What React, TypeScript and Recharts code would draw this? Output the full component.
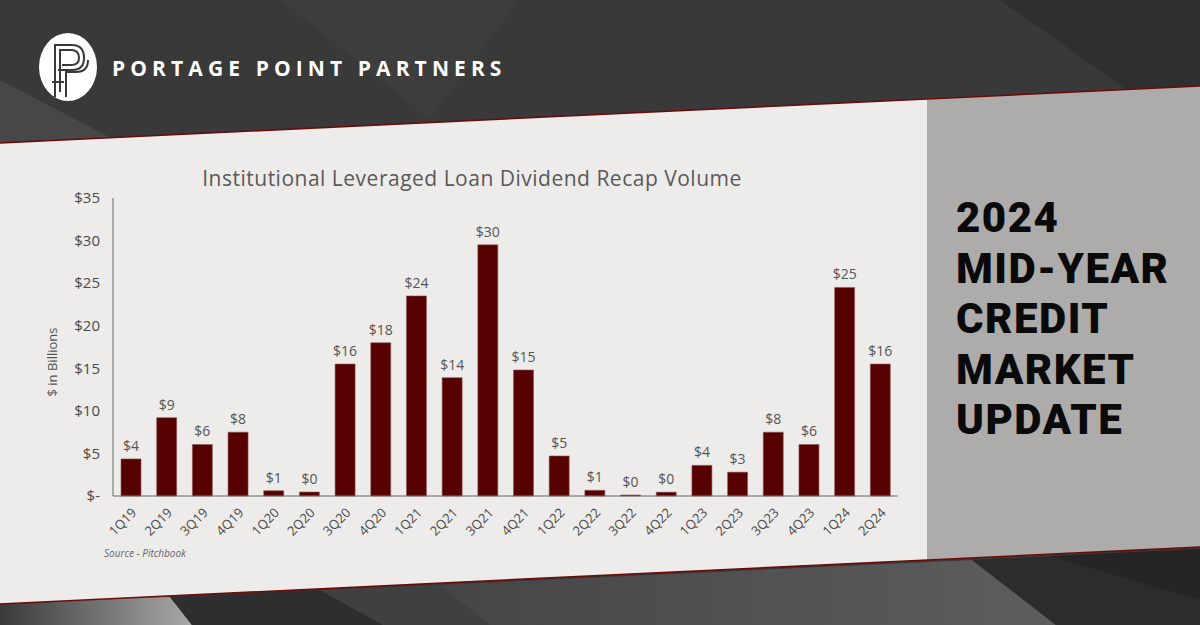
import type { ReactElement } from 'react'
import { BarChart, Bar, XAxis, YAxis, LabelList } from 'recharts'

// Quarterly volume, $ in billions
const QUARTERS = [
  '1Q19', '2Q19', '3Q19', '4Q19', '1Q20', '2Q20', '3Q20', '4Q20', '1Q21', '2Q21', '3Q21',
  '4Q21', '1Q22', '2Q22', '3Q22', '4Q22', '1Q23', '2Q23', '3Q23', '4Q23', '1Q24', '2Q24',
]
const VOLUME = [
  4.35, 9.2, 6.05, 7.5, 0.62, 0.47, 15.5, 18.0, 23.5, 13.9, 29.5,
  14.8, 4.7, 0.67, 0.12, 0.45, 3.6, 2.8, 7.5, 6.05, 24.5, 15.5,
]
const Y_TICKS = [0, 5, 10, 15, 20, 25, 30, 35]
const HEADLINE = ['2024', 'MID-YEAR', 'CREDIT', 'MARKET', 'UPDATE']

const MAROON = '#560000'
const FONT = '"Open Sans", sans-serif'

const rows = QUARTERS.map((q, i) => ({ quarter: q, volume: VOLUME[i] }))

const money = (v: number) => (v === 0 ? '$-' : `$${Math.round(v)}`)

// slanted edge of the light panel: y = a - 0.0475x
const topY = (x: number) => 143 - 0.0475 * x
const botY = (x: number) => 604 - 0.0475 * x

function XTick({ x, y, payload }: any) {
  return (
    <text
      x={x + 3}
      y={y + 6}
      transform={`rotate(-45 ${x + 3} ${y + 6})`}
      textAnchor="end"
      dominantBaseline="central"
      fontSize={13}
      fill="#4a4a4a"
      fontFamily={FONT}
    >
      {payload.value}
    </text>
  )
}

function Backdrop() {
  const panel = `0,${topY(0)} 1200,${topY(1200)} 1200,${botY(1200)} 0,${botY(0)}`
  const grey = `927,${topY(927)} 1200,${topY(1200)} 1200,${botY(1200)} 927,${botY(927)}`
  return (
    <svg width={1200} height={625} style={{ position: 'absolute', left: 0, top: 0 }}>
      <defs>
        <linearGradient id="lg1" x1="0" y1="0" x2="1" y2="0">
          <stop offset="0" stopColor="#3a3a3a" />
          <stop offset="1" stopColor="#a8a8a8" />
        </linearGradient>
        <linearGradient id="lg2" x1="0" y1="0" x2="1" y2="0">
          <stop offset="0" stopColor="#454545" />
          <stop offset="1" stopColor="#5e5d5d" />
        </linearGradient>
      </defs>
      <rect width={1200} height={625} fill="#3a393a" />
      {/* top facets */}
      <polygon points="0,80 115,140 0,145" fill="#474747" />
      <polygon points="280,0 520,0 430,120" fill="#3e3d3e" />
      <polygon points="1000,0 1200,0 1200,90 1130,92" fill="#2f2f2f" />
      {/* bottom facets */}
      <polygon points="0,600 170,597 192,625 0,625" fill="url(#lg1)" />
      <polygon points="170,597 320,590 383,625 192,625" fill="#2e2e2e" />
      <polygon points="320,590 440,585 490,625 383,625" fill="#404040" />
      <polygon points="440,585 972,560 1056,625 490,625" fill="url(#lg2)" />
      <polygon points="972,560 1200,549 1200,625 1056,625" fill="#2c2c2c" />
      <polygon points="1050,556 1200,549 1200,600" fill="#252525" />
      <polygon points={panel} fill="#edeceb" />
      <polygon points={grey} fill="#adacab" />
      <line x1={0} y1={topY(0)} x2={1200} y2={topY(1200)} stroke="#6b0a0a" strokeWidth={1.5} />
      <line x1={0} y1={botY(0)} x2={1200} y2={botY(1200)} stroke="#6b0a0a" strokeWidth={1.5} />
      {/* logo */}
      <ellipse cx={68} cy={67} rx={29} ry={34} fill="#ffffff" />
      <g stroke="#3a393a" strokeWidth={2} fill="none">
        <path d="M55,97 V45 H72 Q84,45 84,58 Q84,70 72,70 H58" />
        <path d="M60,92 V50 H71 Q79,50 79,58 Q79,65 71,65 H62" />
        <path d="M66,97 V72 H76 Q88,72 88,60" />
        <path d="M52,82 H64" />
      </g>
      <text x={112} y={76} fontFamily={FONT} fontWeight={700} fontSize={21} letterSpacing={5.1} fill="#ffffff">
        PORTAGE POINT PARTNERS
      </text>
    </svg>
  )
}

export default function App(): ReactElement {
  return (
    <div style={{ position: 'absolute', left: 0, top: 0, width: 1200, height: 625, overflow: 'hidden' }}>
      <Backdrop />
      <div style={{ position: 'absolute', left: 0, top: 0 }}>
        <BarChart
          width={1200}
          height={625}
          data={rows}
          margin={{ top: 198, right: 302, bottom: 69, left: 53 }}
        >
          <XAxis
            dataKey="quarter"
            stroke="#666"
            tickLine={false}
            interval={0}
            height={60}
            tick={<XTick />}
          />
          <YAxis
            width={60}
            domain={[0, 35]}
            ticks={Y_TICKS}
            tickFormatter={money}
            stroke="#666"
            tickLine={false}
            tickSize={0}
            tickMargin={13}
            tick={{ fontSize: 15, fill: '#4a4a4a', fontFamily: FONT }}
          />
          <Bar dataKey="volume" fill={MAROON} stroke="#8e5a5a" strokeWidth={0.6} barSize={20} isAnimationActive={false}>
            <LabelList
              dataKey="volume"
              position="top"
              offset={8}
              formatter={(v: any) => money(Number(v) || 0.0001)}
              style={{ fontSize: 14, fill: '#555', fontFamily: FONT }}
            />
          </Bar>
        </BarChart>
      </div>
      <svg width={1200} height={625} style={{ position: 'absolute', left: 0, top: 0, pointerEvents: 'none' }}>
        <text x={472} y={186} textAnchor="middle" fontFamily={FONT} fontSize={21} letterSpacing={0.5} fill="#595959">
          Institutional Leveraged Loan Dividend Recap Volume
        </text>
        <text
          x={57}
          y={362}
          transform="rotate(-90 57 362)"
          textAnchor="middle"
          fontFamily={FONT}
          fontSize={13}
          fill="#555"
        >
          $ in Billions
        </text>
        <text x={104} y={557} fontFamily={FONT} fontSize={10} fontStyle="italic" fill="#666">
          Source - Pitchbook
        </text>
        {HEADLINE.map((line, i) => (
          <text
            key={line}
            x={956}
            y={232 + i * 50.5}
            fontFamily="Roboto, sans-serif"
            fontWeight={900}
            fontSize={42}
            letterSpacing={1.5}
            fill="#0a0a0a"
          >
            {line}
          </text>
        ))}
      </svg>
    </div>
  )
}
